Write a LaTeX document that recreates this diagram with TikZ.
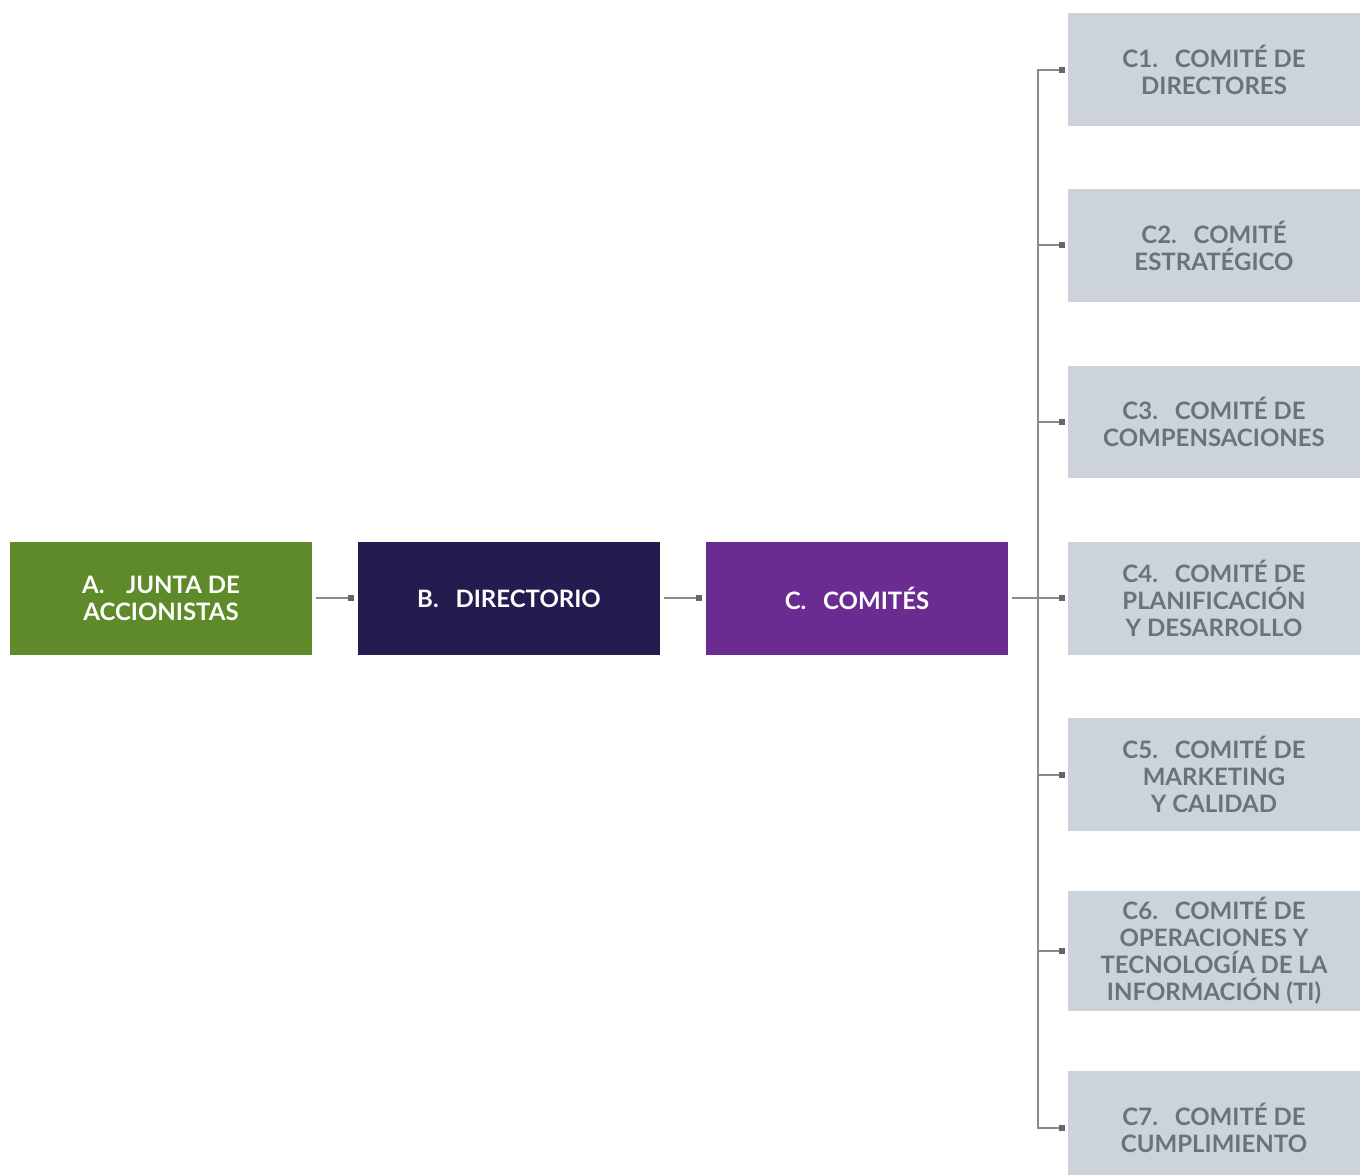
\documentclass[tikz,border=0pt]{standalone}
\usepackage{fontspec}
\setmainfont{Lato}
\begin{document}
\begin{tikzpicture}[x=1pt,y=-1pt,
  box/.style={minimum width=302pt,minimum height=113pt,inner sep=0pt,align=center,
    font=\fontsize{24}{27}\selectfont\bfseries},
  mainbox/.style={box,text=white},
  subbox/.style={box,minimum width=292pt,fill=subgrey,text=subtext},
  link/.style={draw=linkgrey,line width=1.6pt},
  tipsq/.style={fill=tipgrey,minimum size=6pt,inner sep=0pt,outer sep=0pt}]
\definecolor{juntagreen}{HTML}{5E8A2A}
\definecolor{dirnavy}{HTML}{221C4F}
\definecolor{compurple}{HTML}{6A2C91}
\definecolor{subgrey}{HTML}{CDD3DA}
\definecolor{subtext}{HTML}{6B7278}
\definecolor{linkgrey}{HTML}{8A8A8A}
\definecolor{tipgrey}{HTML}{666666}
\useasboundingbox[fill=white] (0,0) rectangle (1360,1175);

% main chain
\node[mainbox,fill=juntagreen] (A) at (161,598.5) {A.\hspace{0.9em}JUNTA DE\\ACCIONISTAS};
\node[mainbox,fill=dirnavy] (B) at (509,598.5) {B.\hspace{0.7em}DIRECTORIO};
\node[mainbox,fill=compurple] (C) at (857,598.5) {C.\hspace{0.7em}COMITÉS};

% committees
\node[subbox] (C1) at (1214,69.5) {C1.\hspace{0.7em}COMITÉ DE\\DIRECTORES};
\node[subbox] (C2) at (1214,245.5) {C2.\hspace{0.7em}COMITÉ\\ESTRATÉGICO};
\node[subbox,minimum height=112pt] (C3) at (1214,422) {C3.\hspace{0.7em}COMITÉ DE\\COMPENSACIONES};
\node[subbox] (C4) at (1214,598.5) {C4.\hspace{0.7em}COMITÉ DE\\PLANIFICACIÓN\\Y DESARROLLO};
\node[subbox] (C5) at (1214,774.5) {C5.\hspace{0.7em}COMITÉ DE\\MARKETING\\Y CALIDAD};
\node[subbox,minimum height=120pt] (C6) at (1214,951) {C6.\hspace{0.7em}COMITÉ DE\\OPERACIONES Y\\TECNOLOGÍA DE LA\\INFORMACIÓN (TI)};
\node[subbox,minimum height=114pt] (C7) at (1214,1128) {C7.\hspace{0.7em}COMITÉ DE\\CUMPLIMIENTO};

% square tips at the end of each connector
\node[tipsq] (tB) at (351,598) {};
\node[tipsq] (tC) at (699,598) {};
\foreach \i/\yy in {1/70,2/245,3/422,4/598,5/775,6/951,7/1128}
  \node[tipsq] (t\i) at (1062,\yy) {};

% trunk
\coordinate (top) at (1038,70);
\coordinate (bot) at (1038,1128);
\coordinate (outC) at (1012,598);
\coordinate (outA) at (316,598);
\coordinate (outB) at (664,598);

\draw[link] (outA) -- (tB.west);
\draw[link] (outB) -- (tC.west);
\draw[link] (outC) -- (1038,598);
\draw[link] (t1.west) -| (top) -- (bot) -- (t7.west);
\foreach \i in {2,...,6}
  \draw[link] (t\i.west -| top) -- (t\i.west);
\end{tikzpicture}
\end{document}
